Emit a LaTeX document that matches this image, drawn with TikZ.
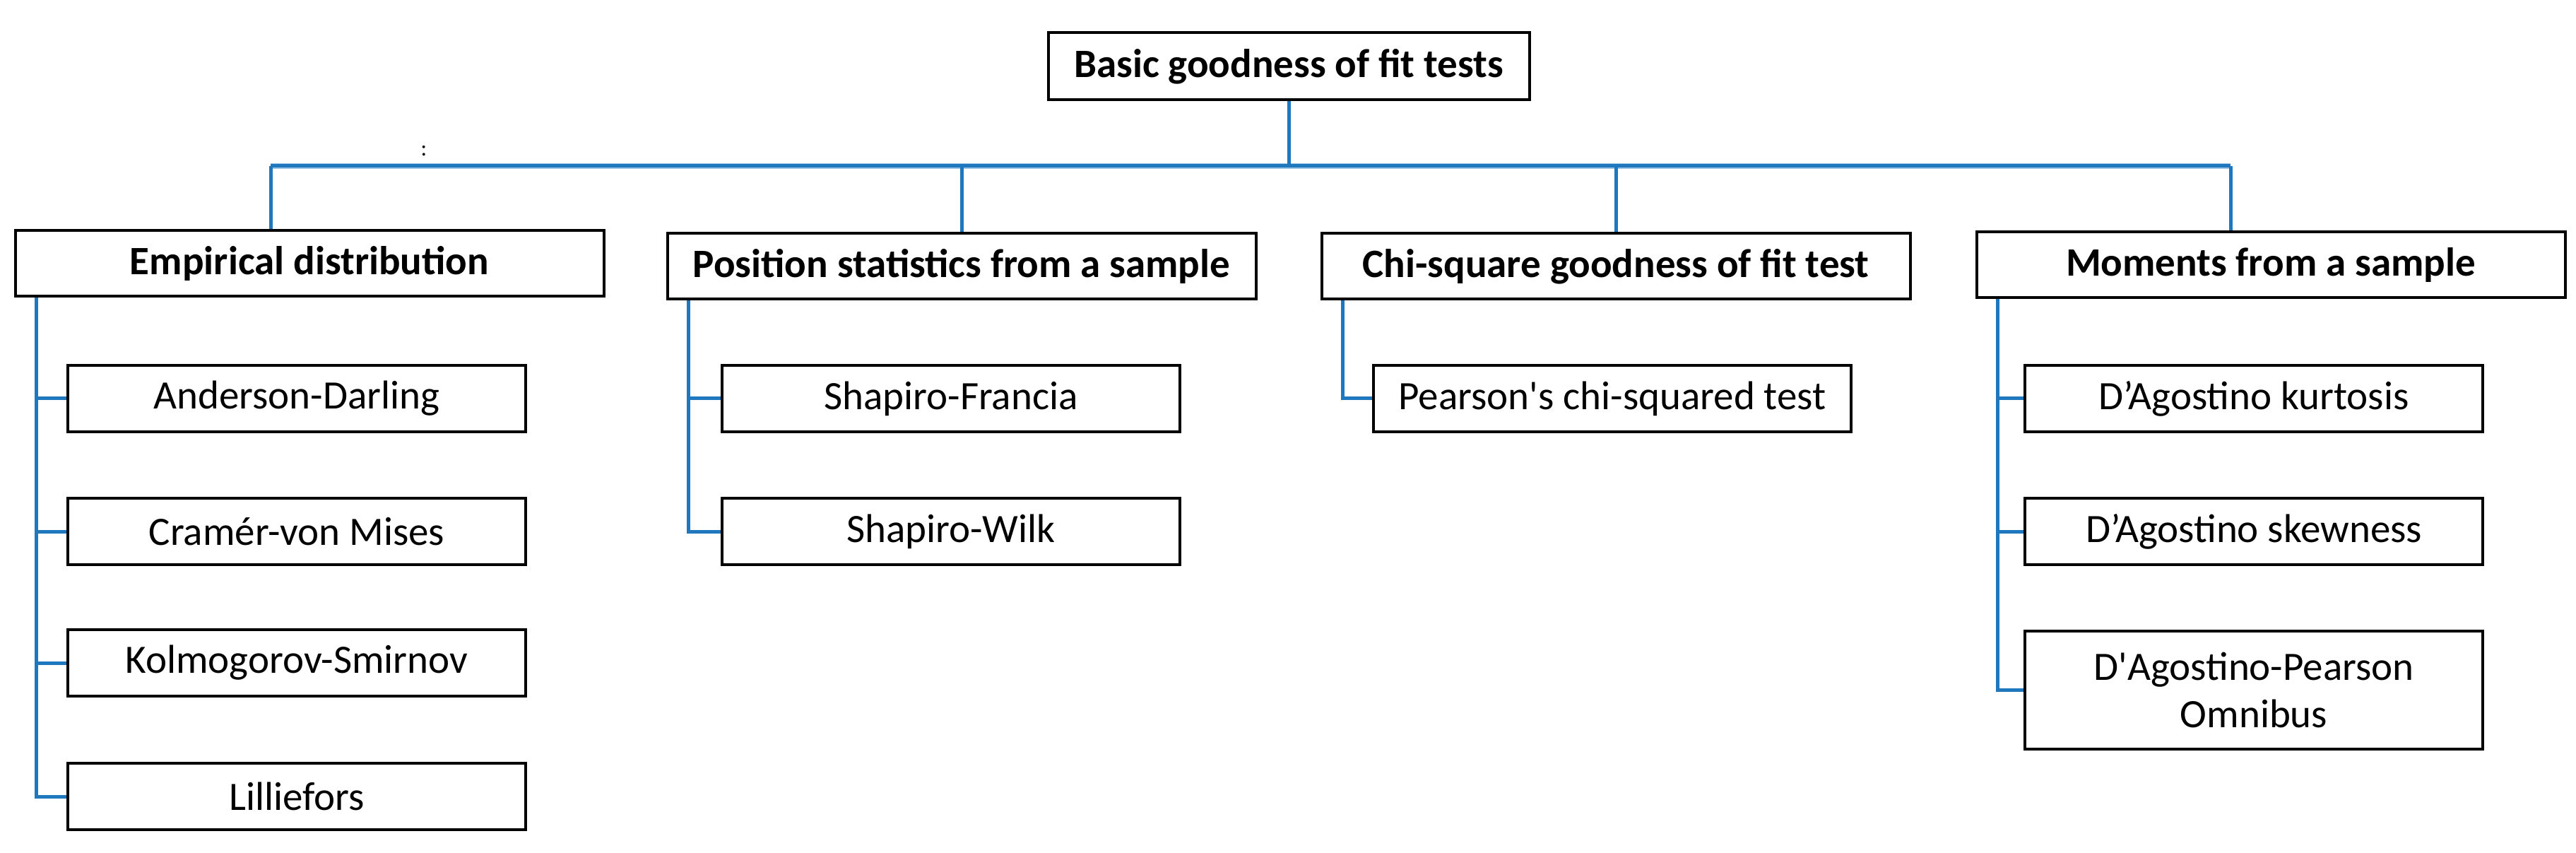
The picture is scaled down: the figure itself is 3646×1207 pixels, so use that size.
\documentclass[tikz,border=0pt]{standalone}
\usepackage{fontspec}
\setmainfont{Carlito}
\tikzset{>=latex}
\usepackage{xcolor}
\definecolor{linkblue}{RGB}{31,119,190}
\colorlet{buslight}{linkblue!45}

\begin{document}
\begin{tikzpicture}[x=0.25pt, y=-0.25pt, line join=miter,
                    box/.style={draw=black, line width=1pt, fill=white, inner sep=0pt, align=center,
                                font=\fontsize{14.25pt}{16.75pt}\selectfont},
                    group/.style={box, font=\fontsize{14.25pt}{16.75pt}\selectfont\bfseries,
                                  minimum width=208.25pt, minimum height=23.25pt},
                    test/.style={box, minimum width=162pt, minimum height=23.5pt},
                    link/.style={draw=linkblue, line width=1.25pt}]
  \useasboundingbox (0,0) rectangle (3646,1207);
  \def\spine{8pt} % offset of the child line from the left edge of a group

  % top box and groups
  \node[group, minimum width=170.25pt, minimum height=23.75pt] (root) at (1824,94) {Basic goodness of fit tests};
  \node[group] (emp) at (438,373)  {Empirical distribution};
  \node[group] (pos) at (1361,377) {Position statistics from a sample};
  \node[group] (chi) at (2287,377) {Chi-square goodness of fit test};
  \node[group] (mom) at (3214,375) {Moments from a sample};
  \node[inner sep=0pt, font=\fontsize{8pt}{9pt}\selectfont] (dots) at (600,214) {:};

  % bus
  \coordinate (busL) at (383,235);
  \coordinate (busR) at (3157,235);
  \draw[buslight, line width=2pt] (busL) -- (busR);
  \draw[link] (busL) -- (busR);
  \draw[link] (root.south) -- (root.south |- busL);
  \draw[link] (busL) -- (busL |- emp.north);
  \draw[link] (pos.north |- busL) -- (pos.north);
  \draw[link] (chi.north |- busL) -- (chi.north);
  \draw[link] (busR) -- (busR |- mom.north);

  % tests of each group
  \foreach \nm/\txt/\yy in {ad/Anderson-Darling/564, cvm/Cramér-von Mises/752,
                            ks/Kolmogorov-Smirnov/938, lf/Lilliefors/1127}{
    \node[test] (\nm) at (420,\yy) {\txt};
    \draw[link] ([xshift=\spine]emp.south west) |- (\nm.west);
  }
  \foreach \nm/\txt/\yy in {sf/Shapiro-Francia/564, sw/Shapiro-Wilk/752}{
    \node[test] (\nm) at (1346,\yy) {\txt};
    \draw[link] ([xshift=\spine]pos.south west) |- (\nm.west);
  }
  \node[test, minimum width=169pt] (pear) at (2282,564) {Pearson\textquotesingle s chi-squared test};
  \draw[link] ([xshift=\spine]chi.south west) |- (pear.west);
  \foreach \nm/\txt/\yy in {dk/D’Agostino kurtosis/564, ds/D’Agostino skewness/752}{
    \node[test] (\nm) at (3190,\yy) {\txt};
    \draw[link] ([xshift=\spine]mom.south west) |- (\nm.west);
  }
  \node[test, minimum height=41.75pt] (omni) at (3190,976) {D\textquotesingle Agostino-Pearson\\Omnibus};
  \draw[link] ([xshift=\spine]mom.south west) |- (omni.west);

\end{tikzpicture}
\end{document}
